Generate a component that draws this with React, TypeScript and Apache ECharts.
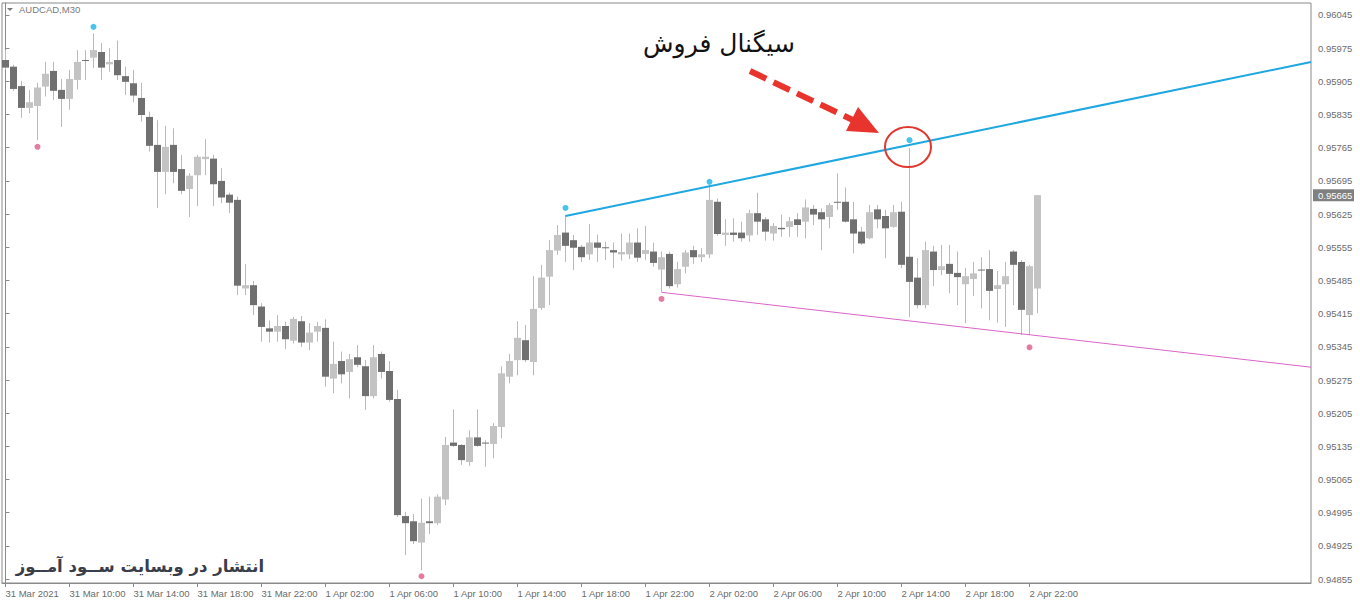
import React, { useEffect, useRef } from "react";
import * as echarts from "echarts";

// Bar index of each tick label (M30 bars from 31 Mar 2021 06:00)
const tickBars = [0, 8, 16, 24, 32, 40, 48, 56, 64, 72, 80, 88, 96, 104, 112, 120, 128];
const tickLabels = [
  "31 Mar 2021", "31 Mar 10:00", "31 Mar 14:00", "31 Mar 18:00", "31 Mar 22:00",
  "1 Apr 02:00", "1 Apr 06:00", "1 Apr 10:00", "1 Apr 14:00", "1 Apr 18:00", "1 Apr 22:00",
  "2 Apr 02:00", "2 Apr 06:00", "2 Apr 10:00", "2 Apr 14:00", "2 Apr 18:00", "2 Apr 22:00",
];
const priceTicks = [
  0.94855, 0.94925, 0.94995, 0.95065, 0.95135, 0.95205, 0.95275, 0.95345, 0.95415,
  0.95485, 0.95555, 0.95625, 0.95695, 0.95765, 0.95835, 0.95905, 0.95975, 0.96045,
];

const opens = [
  0.95950, 0.95936, 0.95895, 0.95849, 0.95853, 0.95894, 0.95927, 0.95887, 0.95868, 0.95908,
  0.95950, 0.95955, 0.95967, 0.95941, 0.95950, 0.95916, 0.95901, 0.95870, 0.95830, 0.95771,
  0.95714, 0.95771, 0.95720, 0.95678, 0.95707, 0.95741, 0.95742, 0.95695, 0.95666, 0.95655,
  0.95468, 0.95475, 0.95430, 0.95384, 0.95377, 0.95389, 0.95358, 0.95399, 0.95354, 0.95377,
  0.95385, 0.95278, 0.95315, 0.95292, 0.95323, 0.95304, 0.95241, 0.95330, 0.95294, 0.95235,
  0.94988, 0.94977, 0.94932, 0.94977, 0.94973, 0.95023, 0.95143, 0.95138, 0.95102, 0.95154,
  0.95143, 0.95140, 0.95176, 0.95282, 0.95317, 0.95359, 0.95313, 0.95427, 0.95493, 0.95548,
  0.95586, 0.95570, 0.95556, 0.95540, 0.95565, 0.95555, 0.95549, 0.95540, 0.95540, 0.95565,
  0.95541, 0.95546, 0.95508, 0.95541, 0.95477, 0.95514, 0.95549, 0.95534, 0.95540, 0.95651,
  0.95581, 0.95586, 0.95586, 0.95580, 0.95627, 0.95614, 0.95584, 0.95596, 0.95598, 0.95614,
  0.95609, 0.95636, 0.95629, 0.95619, 0.95651, 0.95651, 0.95614, 0.95588, 0.95574, 0.95635,
  0.95621, 0.95598, 0.95630, 0.95535, 0.95491, 0.95433, 0.95546, 0.95507, 0.95520, 0.95501,
  0.95477, 0.95488, 0.95508, 0.95509, 0.95467, 0.95477, 0.95546, 0.95524, 0.95412, 0.95468,
];
const closes = [
  0.95934, 0.95889, 0.95849, 0.95861, 0.95892, 0.95921, 0.95885, 0.95868, 0.95910, 0.95946,
  0.95949, 0.95971, 0.95934, 0.95946, 0.95918, 0.95904, 0.95875, 0.95834, 0.95769, 0.95714,
  0.95767, 0.95714, 0.95674, 0.95706, 0.95746, 0.95746, 0.95688, 0.95660, 0.95649, 0.95474,
  0.95475, 0.95433, 0.95387, 0.95377, 0.95389, 0.95361, 0.95404, 0.95354, 0.95375, 0.95389,
  0.95282, 0.95309, 0.95287, 0.95319, 0.95307, 0.95241, 0.95323, 0.95292, 0.95233, 0.94990,
  0.94973, 0.94935, 0.94974, 0.94973, 0.95029, 0.95138, 0.95136, 0.95106, 0.95154, 0.95136,
  0.95141, 0.95178, 0.95289, 0.95315, 0.95364, 0.95317, 0.95425, 0.95491, 0.95549, 0.95581,
  0.95558, 0.95554, 0.95534, 0.95565, 0.95554, 0.95554, 0.95544, 0.95545, 0.95565, 0.95533,
  0.95549, 0.95522, 0.95534, 0.95473, 0.95509, 0.95544, 0.95534, 0.95540, 0.95655, 0.95583,
  0.95586, 0.95581, 0.95574, 0.95627, 0.95609, 0.95588, 0.95600, 0.95593, 0.95610, 0.95602,
  0.95639, 0.95624, 0.95614, 0.95644, 0.95650, 0.95609, 0.95584, 0.95563, 0.95629, 0.95614,
  0.95595, 0.95629, 0.95518, 0.95482, 0.95433, 0.95549, 0.95507, 0.95515, 0.95499, 0.95492,
  0.95494, 0.95500, 0.95507, 0.95463, 0.95475, 0.95494, 0.95518, 0.95423, 0.95515, 0.95665,
];
const lows = [
  0.95929, 0.95885, 0.95828, 0.95838, 0.95781, 0.95873, 0.95866, 0.95809, 0.95845, 0.95888,
  0.95908, 0.95933, 0.95908, 0.95925, 0.95908, 0.95876, 0.95861, 0.95820, 0.95757, 0.95638,
  0.95667, 0.95690, 0.95667, 0.95619, 0.95642, 0.95707, 0.95642, 0.95648, 0.95627, 0.95454,
  0.95454, 0.95412, 0.95356, 0.95354, 0.95356, 0.95340, 0.95352, 0.95345, 0.95338, 0.95356,
  0.95261, 0.95247, 0.95268, 0.95236, 0.95302, 0.95212, 0.95236, 0.95278, 0.95229, 0.94986,
  0.94906, 0.94929, 0.94874, 0.94950, 0.94969, 0.95011, 0.95134, 0.95096, 0.95094, 0.95134,
  0.95092, 0.95110, 0.95152, 0.95268, 0.95285, 0.95313, 0.95285, 0.95423, 0.95433, 0.95539,
  0.95524, 0.95507, 0.95524, 0.95528, 0.95524, 0.95528, 0.95511, 0.95527, 0.95530, 0.95524,
  0.95528, 0.95514, 0.95461, 0.95468, 0.95470, 0.95500, 0.95520, 0.95524, 0.95532, 0.95579,
  0.95558, 0.95567, 0.95567, 0.95567, 0.95581, 0.95569, 0.95569, 0.95577, 0.95577, 0.95577,
  0.95574, 0.95602, 0.95549, 0.95595, 0.95634, 0.95607, 0.95542, 0.95560, 0.95572, 0.95595,
  0.95532, 0.95596, 0.95511, 0.95408, 0.95426, 0.95426, 0.95473, 0.95496, 0.95458, 0.95433,
  0.95395, 0.95452, 0.95426, 0.95401, 0.95396, 0.95387, 0.95433, 0.95370, 0.95370, 0.95416,
];
const highs = [
  0.95971, 0.95940, 0.95906, 0.95887, 0.95902, 0.95946, 0.95946, 0.95910, 0.95929, 0.95971,
  0.95971, 0.96006, 0.95986, 0.95975, 0.95991, 0.95936, 0.95929, 0.95902, 0.95841, 0.95823,
  0.95811, 0.95806, 0.95750, 0.95711, 0.95750, 0.95783, 0.95750, 0.95722, 0.95670, 0.95662,
  0.95520, 0.95484, 0.95437, 0.95401, 0.95412, 0.95398, 0.95408, 0.95410, 0.95395, 0.95398,
  0.95403, 0.95356, 0.95335, 0.95330, 0.95349, 0.95317, 0.95349, 0.95335, 0.95315, 0.95254,
  0.94997, 0.94992, 0.95025, 0.95029, 0.95034, 0.95155, 0.95213, 0.95140, 0.95169, 0.95213,
  0.95148, 0.95184, 0.95304, 0.95330, 0.95399, 0.95391, 0.95494, 0.95518, 0.95570, 0.95602,
  0.95623, 0.95581, 0.95560, 0.95604, 0.95582, 0.95567, 0.95565, 0.95584, 0.95584, 0.95595,
  0.95600, 0.95565, 0.95546, 0.95546, 0.95524, 0.95549, 0.95558, 0.95553, 0.95686, 0.95658,
  0.95614, 0.95616, 0.95609, 0.95634, 0.95670, 0.95619, 0.95606, 0.95624, 0.95619, 0.95627,
  0.95656, 0.95644, 0.95637, 0.95648, 0.95711, 0.95681, 0.95651, 0.95598, 0.95644, 0.95644,
  0.95634, 0.95644, 0.95651, 0.95764, 0.95532, 0.95567, 0.95558, 0.95560, 0.95560, 0.95546,
  0.95511, 0.95524, 0.95534, 0.95549, 0.95505, 0.95524, 0.95549, 0.95528, 0.95518, 0.95665,
];

// Fractal markers: [bar index, price]
const upFractals = [[11, 0.96020], [70, 0.95638], [88, 0.95693], [113, 0.95781]];
const downFractals = [[4, 0.95767], [52, 0.94861], [82, 0.95446], [128, 0.95344]];

// Trend lines: [bar index, price] end points (right end at the chart edge)
const X_MIN = -0.4375;
const X_MAX = 163.1875;
const resistanceLine = [[70, 0.95621], [X_MAX, 0.95946]];
const supportLine = [[82, 0.95460], [X_MAX, 0.95302]];

const BULL = "#c3c3c3";
const BEAR = "#707070";
const WICK = "#b9b9b9";
const AXIS = "#8a8a8a";
const LABEL = "#6b6b6b";
const FONT = "'Liberation Sans', Arial, sans-serif";

export default function App() {
  const ref = useRef<HTMLDivElement>(null);

  useEffect(() => {
    if (!ref.current) return;
    const chart = echarts.init(ref.current, null, { renderer: "svg" });
    const candles = opens.map((o, i) => [i, o, closes[i], lows[i], highs[i]]);

    chart.setOption({
      animation: false,
      backgroundColor: "#ffffff",
      grid: {
        left: 2,
        right: 49,
        top: 3,
        bottom: 21,
        show: true,
        borderColor: AXIS,
        borderWidth: 1,
      },
      xAxis: {
        type: "value",
        min: X_MIN,
        max: X_MAX,
        splitLine: { show: false },
        axisLine: { show: true, lineStyle: { color: AXIS } },
        axisTick: { show: true, customValues: tickBars, length: 4, lineStyle: { color: AXIS } },
        axisLabel: {
          customValues: tickBars,
          formatter: (v: number) => tickLabels[tickBars.indexOf(Math.round(v))] ?? "",
          align: "left",
          margin: 5,
          color: LABEL,
          fontSize: 9.5,
          fontFamily: FONT,
        },
      },
      yAxis: {
        type: "value",
        position: "right",
        min: 0.948468,
        max: 0.960703,
        scale: true,
        splitLine: { show: false },
        axisLine: { show: true, lineStyle: { color: AXIS } },
        axisTick: { show: true, customValues: priceTicks, length: 4, lineStyle: { color: AXIS } },
        axisLabel: {
          customValues: priceTicks,
          formatter: (v: number) => v.toFixed(5),
          margin: 7,
          color: LABEL,
          fontSize: 9.5,
          fontFamily: FONT,
        },
      },
      series: [
        {
          type: "custom",
          clip: true,
          data: candles,
          encode: { x: 0, y: [1, 2, 3, 4] },
          renderItem: (params: any, api: any) => {
            const i = api.value(0);
            const o = api.value(1);
            const c = api.value(2);
            const l = api.value(3);
            const h = api.value(4);
            const pO = api.coord([i, o]);
            const pC = api.coord([i, c]);
            const pL = api.coord([i, l]);
            const pH = api.coord([i, h]);
            const x = pO[0];
            const w = 7;
            const top = Math.min(pO[1], pC[1]);
            const hgt = Math.max(1, Math.abs(pO[1] - pC[1]));
            return {
              type: "group",
              children: [
                {
                  type: "line",
                  shape: { x1: x, y1: pH[1], x2: x, y2: pL[1] },
                  style: { stroke: WICK, lineWidth: 1 },
                },
                {
                  type: "rect",
                  shape: { x: x - w / 2, y: top, width: w, height: hgt },
                  style: { fill: c >= o ? BULL : BEAR },
                },
              ],
            };
          },
        },
        {
          type: "line",
          data: resistanceLine,
          symbol: "none",
          lineStyle: { color: "#1ea7e1", width: 2 },
          z: 5,
        },
        {
          type: "line",
          data: supportLine,
          symbol: "none",
          lineStyle: { color: "#dc64c8", width: 1 },
          z: 5,
        },
        {
          type: "scatter",
          data: upFractals,
          symbolSize: 6,
          itemStyle: { color: "#1ab4ea" },
          z: 6,
        },
        {
          type: "scatter",
          data: downFractals,
          symbolSize: 6,
          itemStyle: { color: "#dc5a8c" },
          z: 6,
        },
      ],
    });

    const lastClose = closes[closes.length - 1];
    const py = chart.convertToPixel({ yAxisIndex: 0 }, lastClose) as number;

    chart.setOption({
      graphic: [
        // symbol/timeframe caption
        {
          type: "polygon",
          shape: { points: [[7, 8], [13, 8], [10, 11]] },
          style: { fill: "#7a7a7a" },
        },
        {
          type: "text",
          x: 19,
          y: 4,
          style: { text: "AUDCAD,M30", fill: "#7a7a7a", font: `9.5px ${FONT}` },
        },
        // current price box
        {
          type: "rect",
          shape: { x: 1313, y: py - 6, width: 41, height: 12 },
          style: { fill: "#808080" },
          z: 10,
        },
        {
          type: "text",
          x: 1318,
          y: py,
          style: {
            text: lastClose.toFixed(5),
            fill: "#ffffff",
            font: `9.5px ${FONT}`,
            verticalAlign: "middle",
          },
          z: 11,
        },
        // sell signal annotation
        {
          type: "text",
          x: 719,
          y: 43,
          style: {
            text: "سیگنال فروش",
            fill: "#111111",
            font: "25px 'DejaVu Sans', sans-serif",
            align: "center",
            verticalAlign: "middle",
          },
        },
        {
          type: "line",
          shape: { x1: 750, y1: 71, x2: 855, y2: 121 },
          style: { stroke: "#e8342c", lineWidth: 6, lineDash: [18, 8] },
        },
        {
          type: "polygon",
          shape: { points: [[879, 133], [846, 131], [858, 107]] },
          style: { fill: "#e8342c" },
        },
        {
          type: "ellipse",
          shape: { cx: 908, cy: 147, rx: 23, ry: 20 },
          style: { fill: "none", stroke: "#e0382e", lineWidth: 2 },
          z: 7,
        },
        // watermark
        {
          type: "text",
          x: 140,
          y: 566,
          style: {
            text: "انتشار در وبسایت ســود آمــوز",
            fill: "#3a3d4a",
            font: "bold 16.5px 'DejaVu Sans', sans-serif",
            align: "center",
            verticalAlign: "middle",
          },
        },
      ],
    });

    return () => chart.dispose();
  }, []);

  return (
    <div
      ref={ref}
      style={{ position: "fixed", left: 0, top: 0, width: 1360, height: 604, background: "#ffffff" }}
    />
  );
}
